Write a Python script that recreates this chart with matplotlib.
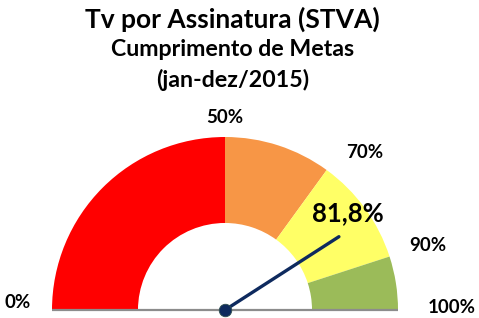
import matplotlib.pyplot as plt
import numpy as np
from matplotlib.patches import Wedge

# gauge data
limits = [0, 50, 70, 90, 100]
band_colors = ["#FF0000", "#F79646", "#FFFF66", "#9BBB59"]
value = 81.8
value_label = "81,8%"
title_lines = ["Tv por Assinatura (STVA)", "Cumprimento de Metas", "(jan-dez/2015)"]

# label positions (gauge radius units), one per limit
label_pos = [(-1.196, 0.046), (0.0, 1.110), (0.809, 0.908), (1.173, 0.370), (1.312, 0.012)]

plt.rcParams['font.family'] = ['Lato', 'DejaVu Sans']

fig = plt.figure(figsize=(4.79, 3.18), dpi=100)
ax = fig.add_axes([0, 0, 1, 1])
ax.set_xlim(-225 / 173, 254 / 173)
ax.set_ylim(-8 / 173, 310 / 173)
ax.axis('off')

def pct_to_angle(p):
    return 180 - p * 1.8

r_out, r_in = 1.0, 0.503
for i, c in enumerate(band_colors):
    a1 = pct_to_angle(limits[i + 1])
    a2 = pct_to_angle(limits[i])
    ax.add_patch(Wedge((0, 0), r_out, a1, a2, width=r_out - r_in, facecolor=c, edgecolor='none'))

ax.plot([-1, 1], [0, 0], color="#8C8C8C", lw=1.6, solid_capstyle='butt', zorder=3)

# needle
ang = np.radians(pct_to_angle(value))
L = 0.783
ax.plot([0, L * np.cos(ang)], [0, L * np.sin(ang)], color="#0E2A5E", lw=2.4,
        solid_capstyle='round', zorder=4)
ax.plot([0], [0], 'o', color="#0E2A5E", markersize=9, markeredgecolor="#2F4F4F",
        markeredgewidth=0.6, zorder=5)

for lim, (x, y) in zip(limits, label_pos):
    ax.text(x, y, f"{lim}%", fontsize=13.5, fontweight='bold', ha='center', va='center', color='black')

ax.text(0.711, 0.561, value_label, fontsize=18.5, fontweight='bold', ha='center', va='center')

# titles
fig.text(0.485, 1 - 19 / 318, title_lines[0], fontsize=19, fontweight='bold', ha='center', va='center')
fig.text(0.485, 1 - 50 / 318, title_lines[1], fontsize=16.7, fontweight='bold', ha='center', va='center')
fig.text(0.485, 1 - 80 / 318, title_lines[2], fontsize=16.7, fontweight='bold', ha='center', va='center')

fig.savefig("out.png", dpi=100)
